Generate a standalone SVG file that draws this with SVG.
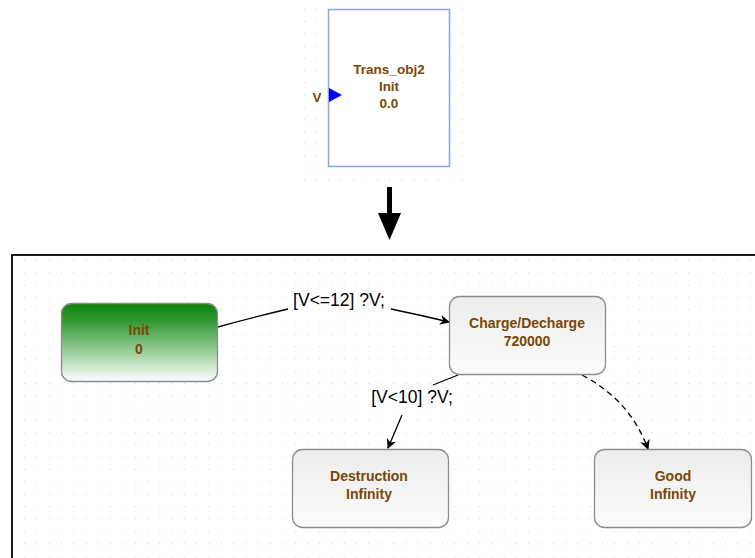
<svg xmlns="http://www.w3.org/2000/svg" width="755" height="558" viewBox="0 0 755 558">
<defs>
<pattern id="gridTop" x="304" y="9" width="12.15" height="12.2" patternUnits="userSpaceOnUse">
<rect x="0" y="0" width="1" height="1" fill="#d0d0d0"/>
</pattern>
<pattern id="gridBot" x="24" y="260" width="12.3" height="12.3" patternUnits="userSpaceOnUse">
<rect x="0" y="0" width="1" height="1" fill="#d0d0d0"/>
</pattern>
<linearGradient id="green" x1="0" y1="0" x2="0" y2="1">
<stop offset="0" stop-color="#0b840b"/>
<stop offset="0.2" stop-color="#2c962c"/>
<stop offset="1" stop-color="#ffffff"/>
</linearGradient>
<linearGradient id="grey" x1="0" y1="0" x2="0" y2="1">
<stop offset="0" stop-color="#ececec"/>
<stop offset="1" stop-color="#fcfcfc"/>
</linearGradient>
<marker id="arr" viewBox="0 0 10 10" refX="9" refY="5" markerWidth="10" markerHeight="10" markerUnits="userSpaceOnUse" orient="auto">
<path d="M0,0 L10,5 L0,10 L3,5 Z" fill="#000"/>
</marker>
<style>
.node{stroke:#8c8c8c;stroke-width:1.3}
.nt{font-family:"Liberation Sans",Arial,sans-serif;font-weight:bold;font-size:14px;fill:#7a4706;text-anchor:middle}
.bt{font-size:13.5px}
.lbl{font-family:"Liberation Sans",Arial,sans-serif;font-size:17.5px;fill:#000;text-anchor:middle}
.edge{fill:none;stroke:#000;stroke-width:1.3}
</style>
</defs>
<rect width="755" height="558" fill="#fff"/>
<rect x="303" y="8" width="162" height="175" fill="url(#gridTop)"/>
<g id="block">
<rect x="328.5" y="9.5" width="121" height="157" fill="#fff" stroke="#8ea3d6" stroke-width="1.5"/>
<text class="nt bt" x="389" y="74">Trans_obj2</text>
<text class="nt bt" x="389" y="91">Init</text>
<text class="nt bt" x="389" y="108">0.0</text>
<path d="M329,88 L342,95 L329,102 Z" fill="#0000ff"/>
<text class="nt bt" x="317" y="102">V</text>
</g>
<g id="bigArrow">
<rect x="387" y="187" width="5" height="27" fill="#000"/>
<path d="M378,213 L401,213 L389.5,240 Z" fill="#000"/>
</g>
<g id="panel">
<rect x="12" y="255" width="750" height="310" fill="url(#gridBot)" stroke="#1a1a1a" stroke-width="2"/>
</g>
<g id="connectors">
<path class="edge" d="M218,327 Q250,318 288,309"/>
<text class="lbl" x="339" y="306">[V&lt;=12] ?V;</text>
<path class="edge" d="M391,309 Q420,315 449,322" marker-end="url(#arr)"/>
<path class="edge" d="M458,375 L433,385"/>
<text class="lbl" x="412" y="403">[V&lt;10] ?V;</text>
<path class="edge" d="M402,415 L388,448" marker-end="url(#arr)"/>
<path class="edge" d="M582,375 Q630,400 648,449" stroke-dasharray="6,4" marker-end="url(#arr)"/>
</g>
<g id="Init">
<rect class="node" x="61.5" y="303.5" width="156" height="78" rx="10" fill="url(#green)"/>
<text class="nt" x="139" y="335">Init</text>
<text class="nt" x="139" y="354">0</text>
</g>
<g id="Charge">
<rect class="node" x="449.5" y="296.5" width="156" height="78" rx="10" fill="url(#grey)"/>
<text class="nt" x="527" y="328">Charge/Decharge</text>
<text class="nt" x="527" y="346">720000</text>
</g>
<g id="Destruction">
<rect class="node" x="292.5" y="449.5" width="156" height="78" rx="10" fill="url(#grey)"/>
<text class="nt" x="369" y="481">Destruction</text>
<text class="nt" x="369" y="499">Infinity</text>
</g>
<g id="Good">
<rect class="node" x="594.5" y="449.5" width="157" height="78" rx="10" fill="url(#grey)"/>
<text class="nt" x="673" y="481">Good</text>
<text class="nt" x="673" y="499">Infinity</text>
</g>
</svg>
